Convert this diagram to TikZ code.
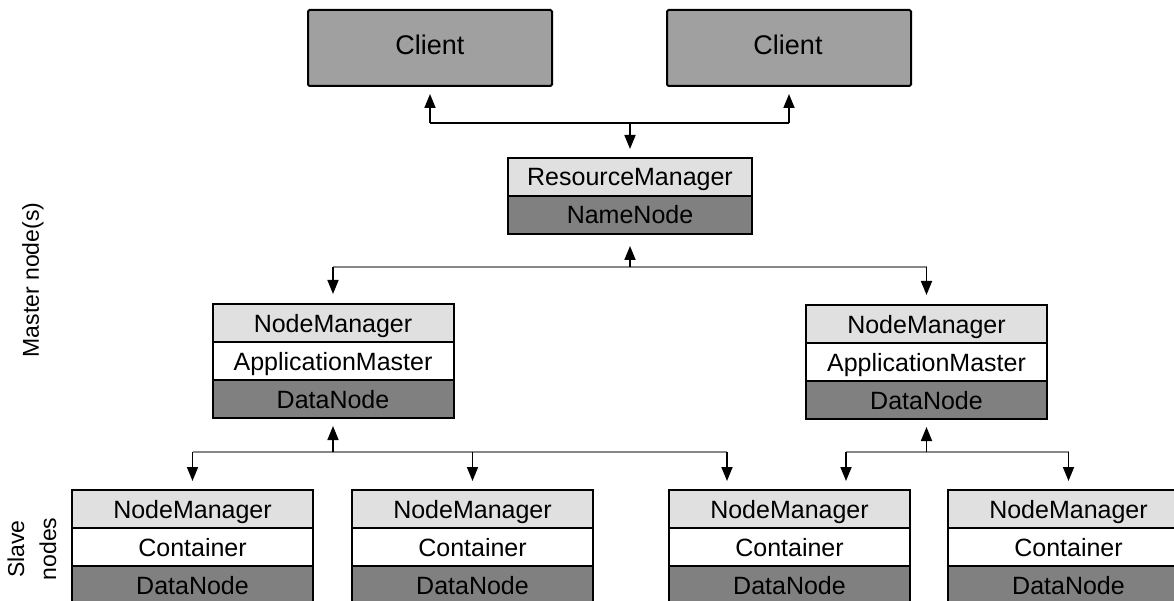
\documentclass[tikz,border=0pt]{standalone}
\usepackage{fontspec}
\setmainfont{Liberation Sans}
\usetikzlibrary{arrows.meta,calc}
\definecolor{clientgray}{RGB}{160,160,160}
\definecolor{lightrow}{RGB}{224,224,224}
\definecolor{darkrow}{RGB}{128,128,128}
\definecolor{linegray}{RGB}{135,135,135}
\tikzset{
  rowbox/.style={draw=black, line width=2pt, minimum width=241pt, minimum height=38pt,
    inner sep=0pt, text height=18pt, text depth=0pt, font=\fontsize{25}{30}\selectfont},
  toprow/.style={rowbox, fill=lightrow},
  midrow/.style={rowbox, fill=white},
  botrow/.style={rowbox, fill=darkrow},
  clientbox/.style={draw=black, line width=2pt, fill=clientgray, minimum width=244pt,
    minimum height=76pt, inner sep=0pt, rounded corners=1.5pt, font=\fontsize{27}{32}\selectfont},
  arr/.style={draw=black, line width=1.7pt, -{Triangle[length=14pt,width=11pt]}, shorten >=8pt},
  hdark/.style={draw=black, line width=1.8pt},
  hgray/.style={draw=linegray, line width=1.6pt},
  sidelabel/.style={rotate=90, align=center, inner sep=0pt, font=\fontsize{23}{32}\selectfont}
}
\begin{document}
\begin{tikzpicture}[x=1pt,y=-1pt]
\useasboundingbox (0,0) rectangle (1174,601);
\clip (0,0) rectangle (1174,601);
\fill[white] (0,0) rectangle (1174,601);

% Clients
\node[clientbox] (c1) at (430,48) {};
\node[font=\fontsize{27}{32}\selectfont] (c1t) at (430,45) {Client};
\node[clientbox] (c2) at (789,48) {};
\node[font=\fontsize{27}{32}\selectfont] (c2t) at (788,45) {Client};

% ResourceManager / NameNode
\node[toprow, minimum width=244pt] (rm1) at (630,177) {ResourceManager};
\node[botrow, minimum width=244pt] (rm2) at (630,215) {NameNode};

% Master-level node boxes
\node[toprow] (m1a) at (333,323) {NodeManager};
\node[midrow] (m1b) at (333,361) {ApplicationMaster};
\node[botrow] (m1c) at (333,399) {DataNode};

\node[toprow] (m2a) at (926.5,324) {NodeManager};
\node[midrow] (m2b) at (926.5,362) {ApplicationMaster};
\node[botrow] (m2c) at (926.5,400) {DataNode};

% Slave boxes
\node[toprow] (s1a) at (192.5,509) {NodeManager};
\node[midrow] (s1b) at (192.5,547) {Container};
\node[botrow] (s1c) at (192.5,585) {DataNode};

\node[toprow] (s2a) at (472.5,509) {NodeManager};
\node[midrow] (s2b) at (472.5,547) {Container};
\node[botrow] (s2c) at (472.5,585) {DataNode};

\node[toprow] (s3a) at (789.5,509) {NodeManager};
\node[midrow] (s3b) at (789.5,547) {Container};
\node[botrow] (s3c) at (789.5,585) {DataNode};

\node[toprow] (s4a) at (1068.5,509) {NodeManager};
\node[midrow] (s4b) at (1068.5,547) {Container};
\node[botrow] (s4c) at (1068.5,585) {DataNode};

% Side labels
\node[sidelabel] (lmaster) at (33,280) {Master node(s)};
\node[sidelabel] (lslave) at (32,549) {Slave\\nodes};

% Junction coordinates
\coordinate (jtop) at (630,123);
\coordinate (jmid) at (630,267);
\coordinate (jl) at (333,452);
\coordinate (jr) at (926.5,452);
\coordinate (s3in1) at ($(s3a.north west)+(59,0)$);
\coordinate (s3in2) at ($(s3a.north west)+(178,0)$);

% Top connectors
\draw[hdark] (c1.south |- jtop) -- (c2.south |- jtop);
\draw[arr, shorten >=7pt] (c1.south |- jtop) -- (c1.south);
\draw[arr, shorten >=7pt] (c2.south |- jtop) -- (c2.south);
\draw[arr] (jtop) -- (rm1.north);

% Middle connectors
\draw[hgray] (m1a.north |- jmid) -- (m2a.north |- jmid);
\draw[arr, shorten >=11pt] (jmid) -- (rm2.south);
\draw[arr, shorten >=9pt] (m1a.north |- jmid) -- (m1a.north);
\draw[arr, shorten >=9pt] (m2a.north |- jmid) -- (m2a.north);

% Lower-left connectors
\draw[hgray] (s1a.north |- jl) -- (s3in1 |- jl);
\draw[arr, shorten >=7pt] (jl) -- (m1c.south);
\draw[arr] (s1a.north |- jl) -- (s1a.north);
\draw[arr] (s2a.north |- jl) -- (s2a.north);
\draw[arr] (s3in1 |- jl) -- (s3in1);

% Lower-right connectors
\draw[hgray] (s3in2 |- jr) -- (s4a.north |- jr);
\draw[arr, shorten >=7pt] (jr) -- (m2c.south);
\draw[arr] (s3in2 |- jr) -- (s3in2);
\draw[arr] (s4a.north |- jr) -- (s4a.north);
\end{tikzpicture}
\end{document}
